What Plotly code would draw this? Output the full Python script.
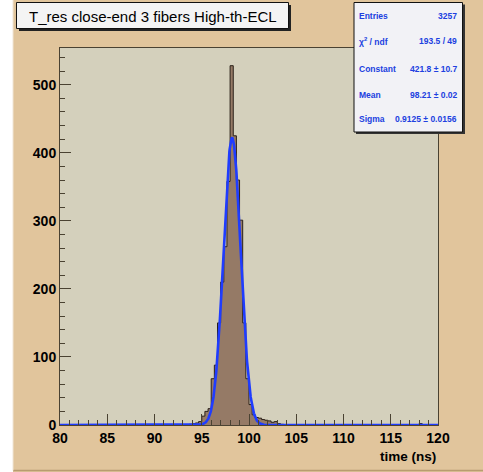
import numpy as np
import plotly.graph_objects as go

# ---- data ----
x_min, x_max, n_bins = 80.0, 120.0, 120
# nonzero bins: (bin index, counts)
bin_index = [41, 42, 43, 44, 45, 46, 47, 48, 49, 50, 51, 52, 53, 54, 55, 56, 57, 58, 59, 60,
             61, 62, 63, 64, 65, 66, 67, 68, 69, 70, 114]
bin_counts = [1, 2, 3, 5, 13, 20, 24, 68, 88, 150, 210, 262, 358, 528, 425, 360, 301, 150, 68, 30,
              15, 11, 10, 8, 7, 6, 4, 5, 2, 1, 2]
fit_constant, fit_mean, fit_sigma = 421.8, 98.21, 0.9125
stats_labels = ["Entries", "χ<sup>2</sup> / ndf", "Constant", "Mean", "Sigma"]
stats_values = ["3257", "193.5 / 49", "421.8 ± 10.7", "98.21 ± 0.02", "0.9125 ± 0.0156"]
title_text = "T_res close-end 3 fibers High-th-ECL"
x_title = "time (ns)"

# ---- histogram step ----
edges = np.linspace(x_min, x_max, n_bins + 1)
counts = np.zeros(n_bins)
for i, c in zip(bin_index, bin_counts):
    counts[i] = c
hx = np.append(edges[:-1], edges[-1])
hy = np.append(counts, counts[-1])

fx = np.linspace(x_min, x_max, 1601)
fy = fit_constant * np.exp(-0.5 * ((fx - fit_mean) / fit_sigma) ** 2)

W, H = 483, 472
L, R, T, B = 60, 45, 48, 47
PW, PH = W - L - R, H - T - B


def px(x):
    return (x - L) / PW


def py(y):
    return (H - B - y) / PH


fig = go.Figure()
fig.add_trace(go.Scatter(x=hx, y=hy, mode="lines", line=dict(shape="hv", color="#2a2018", width=1),
                         fill="tozeroy", fillcolor="#957a66", hoverinfo="skip", showlegend=False))
fig.add_trace(go.Scatter(x=fx, y=fy, mode="lines", line=dict(color="#1f3cff", width=2.6),
                         hoverinfo="skip", showlegend=False))

FONT = "Liberation Sans, Arial, sans-serif"
axcol = "#4a4232"

shapes = []
# left white strip and canvas borders
shapes.append(dict(type="rect", xref="paper", yref="paper", x0=px(0), x1=px(13), y0=py(H), y1=py(0),
                   fillcolor="white", line=dict(width=0), layer="below"))
shapes.append(dict(type="line", xref="paper", yref="paper", x0=px(13), x1=px(W), y0=py(470.5), y1=py(470.5),
                   line=dict(color="#b89c70", width=1.5)))
shapes.append(dict(type="line", xref="paper", yref="paper", x0=px(13), x1=px(13), y0=py(0), y1=py(470.5),
                   line=dict(color="#f0e6d6", width=1)))
# title box with shadow
shapes.append(dict(type="rect", xref="paper", yref="paper", x0=px(19), x1=px(291), y0=py(31), y1=py(5),
                   fillcolor="#222222", line=dict(width=0), layer="above"))
shapes.append(dict(type="rect", xref="paper", yref="paper", x0=px(16.5), x1=px(288.5), y0=py(28.5), y1=py(2.5),
                   fillcolor="#f4f4f4", line=dict(color="#111111", width=1), layer="above"))
# stats box with shadow
shapes.append(dict(type="rect", xref="paper", yref="paper", x0=px(356), x1=px(465), y0=py(134), y1=py(4.5),
                   fillcolor="#333333", line=dict(width=0), layer="above"))
shapes.append(dict(type="rect", xref="paper", yref="paper", x0=px(354), x1=px(462.5), y0=py(132), y1=py(2.5),
                   fillcolor="#f2f2f6", line=dict(color="#111111", width=1), layer="above"))

annotations = []
annotations.append(dict(text=title_text, xref="paper", yref="paper", x=px(152.5), y=py(16),
                        xanchor="center", yanchor="middle", showarrow=False,
                        font=dict(family=FONT, size=15, color="black")))
row_y = [16, 41, 68.5, 95, 119]
for lab, val, yy in zip(stats_labels, stats_values, row_y):
    annotations.append(dict(text=lab, xref="paper", yref="paper", x=px(357), y=py(yy), xanchor="left",
                            yanchor="middle", showarrow=False,
                            font=dict(family=FONT, size=8.5, color="#2040e0", weight="bold")))
    annotations.append(dict(text=val, xref="paper", yref="paper", x=px(459), y=py(yy), xanchor="right",
                            yanchor="middle", showarrow=False,
                            font=dict(family=FONT, size=8.5, color="#2040e0", weight="bold")))
annotations.append(dict(text=x_title, xref="paper", yref="paper", x=px(438), y=py(456), xanchor="right",
                        yanchor="middle", showarrow=False,
                        font=dict(family=FONT, size=13.5, color="black", weight="bold")))

fig.update_layout(
    width=W, height=H, margin=dict(l=L, r=R, t=T, b=B, pad=0),
    paper_bgcolor="#e1c59c", plot_bgcolor="#d4d0bc",
    shapes=shapes, annotations=annotations, showlegend=False,
    xaxis=dict(range=[x_min, x_max], tickmode="linear", tick0=80, dtick=5, ticks="inside", ticklen=11,
               tickcolor=axcol, tickwidth=1, showline=True, mirror=True, linecolor=axcol, linewidth=1,
               showgrid=False, zeroline=False,
               minor=dict(dtick=1, ticks="inside", ticklen=5, tickcolor=axcol, showgrid=False),
               tickfont=dict(family=FONT, size=14, color="black", weight="bold")),
    yaxis=dict(range=[0, 554], tickmode="linear", tick0=0, dtick=100, ticks="inside", ticklen=11,
               tickcolor=axcol, tickwidth=1, showline=True, mirror=True, linecolor=axcol, linewidth=1,
               showgrid=False, zeroline=False,
               minor=dict(dtick=20, ticks="inside", ticklen=5, tickcolor=axcol, showgrid=False),
               tickfont=dict(family=FONT, size=14, color="black", weight="bold")),
)

fig.write_html("out.html")
